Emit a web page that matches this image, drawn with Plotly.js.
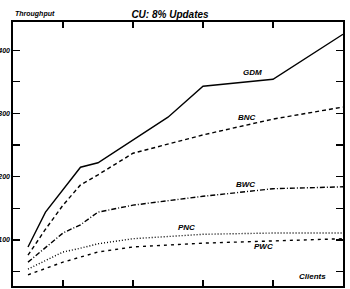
<!DOCTYPE html>
<html><head><meta charset="utf-8">
<script src="https://cdn.plot.ly/plotly-3.0.1.min.js"></script>
<style>html,body{margin:0;padding:0;background:#fff;overflow:hidden}#c{width:350px;height:289px}</style>
</head><body><div id="c"></div>
<script>
const gdmX = [5, 7.5, 12.5, 15, 25, 30, 40, 50];
const gdmY = [89, 144, 215, 222, 294, 343, 354, 425];
const bncX = [5, 7.5, 10, 12.5, 15, 20, 30, 40, 50];
const bncY = [76, 117, 155, 187, 203, 237, 266, 291, 310];
const bwcX = [5, 10, 12.5, 15, 20, 30, 40, 50];
const bwcY = [65, 111, 124, 144, 155, 169, 181, 184];
const pncX = [5, 10, 12.5, 15, 20, 30, 40, 50];
const pncY = [54, 81, 87, 94, 102, 109, 111, 111];
const pwcX = [5, 10, 15, 20, 30, 40, 50];
const pwcY = [45, 65, 81, 89, 95, 98, 102];
const yTickVals = [50, 100, 150, 200, 250, 300, 350, 400];
const yTickText = ['', '100', '', '200', '', '300', '', '400'];
const xTickVals = [10, 20, 30, 40, 50];
const seriesNames = ['GDM', 'BNC', 'BWC', 'PNC', 'PWC'];
const labelX = [37, 36.3, 36.1, 27.7, 38.6];
const labelY = [365, 293, 188, 119, 89];

const ff = 'Liberation Sans, Arial, sans-serif';
const dashes = ['solid', '4px,3px', '5px,2px,1px,2px', '1px,2px', '3px,4px'];
const xs = [gdmX, bncX, bwcX, pncX, pwcX];
const ys = [gdmY, bncY, bwcY, pncY, pwcY];
const traces = seriesNames.map((n, i) => ({
  x: xs[i], y: ys[i], name: n, mode: 'lines', type: 'scatter',
  line: {color: '#000', width: 1.4, dash: dashes[i]}, hoverinfo: 'none'
}));
const lblFont = {family: ff, size: 8, color: '#000', style: 'italic', weight: 'bold'};
const annotations = seriesNames.map((n, i) => ({
  x: labelX[i], y: labelY[i], xref: 'x', yref: 'y', text: n, showarrow: false, font: lblFont
}));
annotations.push({x: 45.6, y: 43, xref: 'x', yref: 'y', text: 'Clients', showarrow: false, font: lblFont});
annotations.push({x: 0, y: 1 + 8 / 264, xref: 'x domain', yref: 'y domain', text: 'Throughput', showarrow: false,
  xanchor: 'left', yanchor: 'middle', font: {family: ff, size: 7, color: '#000', style: 'italic', weight: 'bold'}});

const layout = {
  width: 350, height: 289,
  margin: {l: 13, r: 7, t: 22, b: 3},
  paper_bgcolor: '#fff', plot_bgcolor: '#fff',
  showlegend: false,
  title: {text: 'CU: 8% Updates', x: 170 / 350, xref: 'container', xanchor: 'center',
    y: 1 - 14 / 289, yref: 'container', yanchor: 'middle',
    font: {family: ff, size: 10, color: '#000', style: 'italic', weight: 'bold'}},
  xaxis: {range: [2.857, 50], tickvals: xTickVals, ticks: 'inside', ticklen: 6, tickwidth: 1.2,
    tickcolor: '#000', showline: true, linecolor: '#000', linewidth: 1.6, mirror: 'ticks',
    showgrid: false, zeroline: false, showticklabels: false},
  yaxis: {range: [27.3, 444.4], tickvals: yTickVals, ticktext: yTickText, ticks: 'inside', ticklen: 7,
    tickwidth: 1.2, tickcolor: '#000', showline: true, linecolor: '#000', linewidth: 1.6, mirror: 'ticks',
    showgrid: false, zeroline: false,
    tickfont: {family: ff, size: 7, color: '#000', style: 'italic', weight: 'bold'}},
  annotations: annotations
};
Plotly.newPlot('c', traces, layout, {staticPlot: true, displayModeBar: false});
</script></body></html>
